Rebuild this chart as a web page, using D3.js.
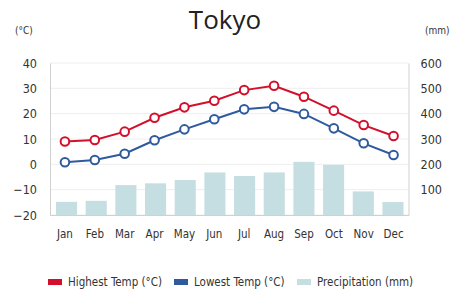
<!DOCTYPE html>
<html>
<head>
<meta charset="utf-8">
<title>Tokyo</title>
<script src="https://d3js.org/d3.v7.min.js"></script>
<style>
  body { margin: 0; background: #fff; }
  text { font-family: "DejaVu Sans Condensed", "Liberation Sans Narrow", sans-serif; fill: #333; }
  .title { font-family: "Open Sans", "Noto Sans", sans-serif; fill: #222; }
</style>
</head>
<body>
<div id="chart"></div>
<script>
// data
var months = ["Jan", "Feb", "Mar", "Apr", "May", "Jun", "Jul", "Aug", "Sep", "Oct", "Nov", "Dec"];
var highTemp = [9.0, 9.6, 12.9, 18.4, 22.5, 25.1, 29.3, 31.0, 26.7, 21.2, 15.5, 11.2];
var lowTemp = [0.8, 1.7, 4.2, 9.5, 13.8, 17.8, 21.7, 22.7, 19.9, 14.2, 8.3, 3.7];
var precip = [52, 56, 118, 125, 138, 168, 154, 168, 210, 198, 93, 51];
var tempTicks = [-20, -10, 0, 10, 20, 30, 40];
var precipTicks = [100, 200, 300, 400, 500, 600];

var width = 465, height = 295;
var margin = { top: 63, right: 56.5, bottom: 80, left: 50 };
var w = width - margin.left - margin.right,
    h = height - margin.top - margin.bottom;

var svg = d3.select("#chart").append("svg")
    .attr("width", width)
    .attr("height", height);

var g = svg.append("g")
    .attr("transform", "translate(" + margin.left + "," + margin.top + ")");

// points sit on the band centres, bars are a touch narrower and shifted
var x = d3.scaleBand().domain(months).range([0, w]);
var xBar = d3.scaleBand().domain(months).range([6, w - 5]).paddingInner(0.29).paddingOuter(0);
var y = d3.scaleLinear().domain([-20, 40]).range([h, 0]);
var y2 = d3.scaleLinear().domain([0, 600]).range([h, 0]);

// grid lines
g.selectAll(".grid").data(tempTicks).enter().append("line")
    .attr("x1", 0).attr("x2", w)
    .attr("y1", function (d) { return y(d); })
    .attr("y2", function (d) { return y(d); })
    .attr("stroke", "#eeeeee")
    .attr("stroke-width", 1);

// bars
g.selectAll(".bar").data(precip).enter().append("rect")
    .attr("x", function (d, i) { return xBar(months[i]); })
    .attr("y", function (d) { return y2(d); })
    .attr("width", xBar.bandwidth())
    .attr("height", function (d) { return h - y2(d); })
    .attr("fill", "#c5dee1");

// axes
var axisL = g.append("g")
    .call(d3.axisLeft(y).tickValues(tempTicks).tickSize(0).tickPadding(13));
axisL.select(".domain").attr("stroke", "#d0d0d0");
axisL.selectAll("text").style("font-size", "12.5px").attr("fill", "#333");

var axisR = g.append("g")
    .attr("transform", "translate(" + w + ",0)")
    .call(d3.axisRight(y2).tickValues(precipTicks).tickSize(0).tickPadding(12));
axisR.select(".domain").attr("stroke", "#d0d0d0");
axisR.selectAll("text").style("font-size", "12.5px").attr("fill", "#333");

var axisB = g.append("g")
    .attr("transform", "translate(0," + h + ")")
    .call(d3.axisBottom(x).tickSize(0).tickPadding(15));
axisB.select(".domain").attr("stroke", "#d0d0d0");
axisB.selectAll("text").style("font-size", "11.5px").attr("fill", "#333");

// lines
function drawSeries(values, color) {
  var line = d3.line()
      .x(function (d, i) { return x(months[i]) + x.bandwidth() / 2; })
      .y(function (d) { return y(d); });
  g.append("path")
      .datum(values)
      .attr("fill", "none")
      .attr("stroke", color)
      .attr("stroke-width", 2)
      .attr("d", line);
  g.selectAll(null).data(values).enter().append("circle")
      .attr("cx", function (d, i) { return x(months[i]) + x.bandwidth() / 2; })
      .attr("cy", function (d) { return y(d); })
      .attr("r", 4.3)
      .attr("fill", "#fff")
      .attr("stroke", color)
      .attr("stroke-width", 2);
}
drawSeries(highTemp, "#d2102c");
drawSeries(lowTemp, "#2f5a9e");

// title and unit labels
svg.append("text").attr("class", "title")
    .attr("x", 225).attr("y", 29)
    .attr("text-anchor", "middle")
    .style("font-size", "26px")
    .text("Tokyo");
svg.append("text")
    .attr("x", 15).attr("y", 34)
    .style("font-size", "10px")
    .text("(°C)");
svg.append("text")
    .attr("x", 425).attr("y", 34)
    .style("font-size", "10px")
    .text("(mm)");

// legend
var legendItems = [
  { label: "Highest Temp (°C)", color: "#d2102c", x: 48 },
  { label: "Lowest Temp (°C)", color: "#2f5a9e", x: 174 },
  { label: "Precipitation (mm)", color: "#c5dee1", x: 297 }
];
var legend = svg.selectAll(".legend").data(legendItems).enter().append("g")
    .attr("transform", function (d) { return "translate(" + d.x + ",282)"; });
legend.append("rect")
    .attr("x", 0).attr("y", -3)
    .attr("width", 14).attr("height", 6)
    .attr("fill", function (d) { return d.color; });
legend.append("text")
    .attr("x", 20).attr("y", 4)
    .style("font-size", "11.5px")
    .text(function (d) { return d.label; });
</script>
</body>
</html>
